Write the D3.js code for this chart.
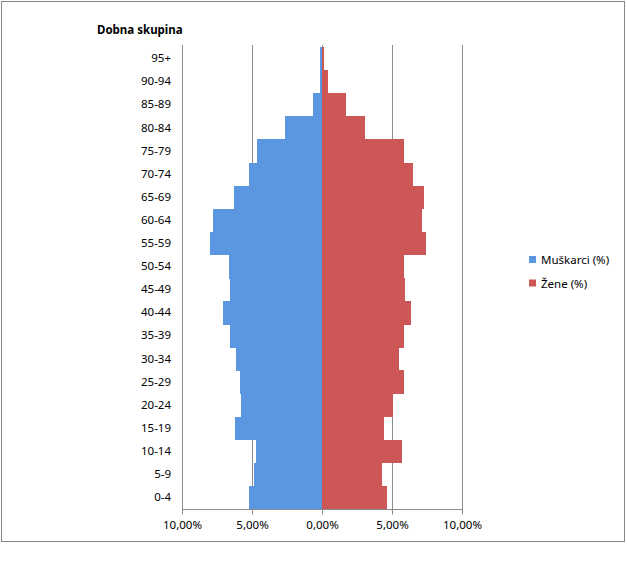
<!DOCTYPE html>
<html><head><meta charset="utf-8">
<script src="https://cdn.jsdelivr.net/npm/d3@7"></script>
<style>body{margin:0;background:#fff}svg{display:block}text{font-family:"Noto Sans",sans-serif}</style>
</head><body><svg id="c" width="627" height="581"></svg>
<script>
const categories = ["0-4","5-9","10-14","15-19","20-24","25-29","30-34","35-39","40-44","45-49","50-54","55-59","60-64","65-69","70-74","75-79","80-84","85-89","90-94","95+"];
const muskarci = [5.26,4.86,4.71,6.21,5.79,5.86,6.16,6.57,7.07,6.57,6.64,8.02,7.81,6.33,5.24,4.69,2.64,0.69,0.2,0.15];
const zene = [4.64,4.29,5.67,4.39,5.07,5.81,5.46,5.86,6.31,5.91,5.81,7.39,7.12,7.24,6.46,5.86,3.05,1.67,0.39,0.12];
const xTicks = [-10,-5,0,5,10];
const tickLabels = ["10,00%","5,00%","0,00%","5,00%","10,00%"];
const seriesNames = ["Muškarci (%)","Žene (%)"];
const colors = ["#5b96e0","#cd5756"];

const svg = d3.select("#c");
svg.append("rect").attr("x",1.5).attr("y",1.5).attr("width",623).attr("height",540)
  .attr("fill","#fff").attr("stroke","#888").attr("stroke-width",1);

const x = d3.scaleLinear().domain([-10,10]).range([182.3,462.3]);
const y = d3.scaleBand().domain(categories.slice().reverse()).range([47,509]).padding(0);

// gridlines
svg.append("g").selectAll("line").data(xTicks).join("line")
  .attr("x1",d=>Math.round(x(d))+0.5).attr("x2",d=>Math.round(x(d))+0.5)
  .attr("y1",45).attr("y2",509).attr("stroke","#8c8c8c").attr("stroke-width",1);

// bars
const bars = svg.append("g").attr("shape-rendering","crispEdges");
bars.selectAll("rect.m").data(categories).join("rect").attr("class","m")
  .attr("x",(d,i)=>x(-muskarci[i])).attr("width",(d,i)=>x(0)-x(-muskarci[i]))
  .attr("y",d=>y(d)).attr("height",y.bandwidth()+0.5).attr("fill",colors[0]);
bars.selectAll("rect.f").data(categories).join("rect").attr("class","f")
  .attr("x",x(0)).attr("width",(d,i)=>x(zene[i])-x(0))
  .attr("y",d=>y(d)).attr("height",y.bandwidth()+0.5).attr("fill",colors[1]);

// x axis
const xa = svg.append("g").attr("transform","translate(0,509.5)")
  .call(d3.axisBottom(x).tickValues(xTicks).tickSize(5).tickPadding(6).tickFormat((d,i)=>tickLabels[i]));
xa.select(".domain").attr("stroke","#8c8c8c").attr("d","M182,0H463");
xa.selectAll(".tick line").attr("stroke","#8c8c8c");
xa.selectAll(".tick").attr("transform",d=>`translate(${Math.round(x(d))+0.5},0)`);
xa.selectAll("text").attr("fill","#000").style("font-size","11.5px").style("font-family","Noto Sans");

// y axis labels
const ya = svg.append("g").attr("transform","translate(171,0)")
  .call(d3.axisLeft(y).tickSize(0).tickPadding(0));
ya.select(".domain").remove();
ya.selectAll("text").attr("fill","#000").style("font-size","11.5px").style("font-family","Noto Sans");

// title
svg.append("text").attr("x",97).attr("y",34).text("Dobna skupina")
  .style("font-size","11.5px").style("font-weight","bold").attr("fill","#000");

// legend
const lg = svg.append("g").selectAll("g").data(seriesNames).join("g")
  .attr("transform",(d,i)=>`translate(529,${256+i*23.5})`);
lg.append("rect").attr("width",7).attr("height",7).attr("fill",(d,i)=>colors[i]);
lg.append("text").attr("x",12).attr("y",8).text(d=>d).style("font-size","11.5px").attr("fill","#000");
</script></body></html>
